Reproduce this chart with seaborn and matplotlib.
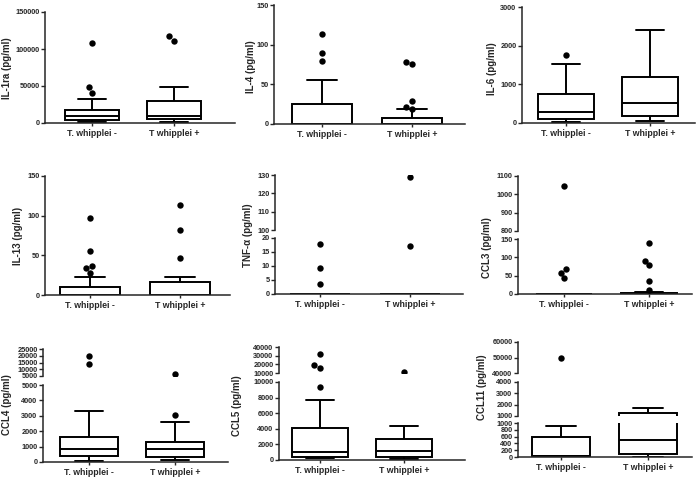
import numpy as np
import pandas as pd
import matplotlib
matplotlib.use("Agg")
import matplotlib.pyplot as plt
import seaborn as sns

sns.set_style("ticks")
plt.rcParams['font.family'] = ['Liberation Sans', 'DejaVu Sans']
plt.rcParams['font.weight'] = 'bold'

groups = ["T. whipplei -", "T whipplei +"]

# box summaries per group: [whisker low, q1, median, q3, whisker high]
il1ra_box = [[1500, 3500, 10000, 18000, 32700], [1500, 5400, 9800, 29500, 49000]]
il1ra_out = [[108000, 49000, 41000], [111000, 117000]]
il4_box = [[0, 0, 0, 25, 56], [0, 0, 0, 8, 18.5]]
il4_out = [[114, 90, 80], [78, 76, 29, 22, 19]]
il6_box = [[30, 110, 275, 740, 1517], [40, 190, 505, 1190, 2400]]
il6_out = [[1757], []]
il13_box = [[0, 0, 0, 10.5, 22.3], [0, 0, 0, 16, 22.3]]
il13_out = [[97, 55, 37, 34, 28], [114, 81.5, 46.6]]
tnf_box = [[0, 0, 0, 0, 0], [0, 0, 0, 0, 0]]
tnf_out = [[18, 9.3, 3.7], [129, 17.3]]
ccl3_box = [[0, 0, 0, 1, 1], [0, 0, 1, 3, 6]]
ccl3_out = [[1045, 69, 58, 43], [140, 91, 78, 36, 11]]
ccl4_box = [[80, 360, 820, 1620, 3310], [150, 300, 820, 1290, 2570]]
ccl4_out = [[19900, 13600], [6800, 3080]]
ccl5_box = [[200, 420, 1040, 4040, 7710], [120, 420, 1210, 2710, 4380]]
ccl5_out = [[31750, 19400, 15600, 9400], [11100]]
ccl11_box = [[10, 30, 40, 600, 920], [10, 100, 490, 1230, 1730]]
ccl11_out = [[50000], []]

# tick labels
t_il1ra = [0, 50000, 100000, 150000]
t_150 = [0, 50, 100, 150]
t_il6 = [0, 1000, 2000, 3000]
t_tnf_lo = [0, 5, 10, 15, 20]
t_tnf_hi = [100, 110, 120, 130]
t_ccl3_lo = [0, 50, 100, 150]
t_ccl3_hi = [800, 900, 1000, 1100]
t_ccl4_lo = [0, 1000, 2000, 3000, 4000, 5000]
t_ccl4_hi = [5000, 10000, 15000, 20000, 25000]
t_ccl5_lo = [0, 2000, 4000, 6000, 8000, 10000]
t_ccl5_hi = [10000, 20000, 30000, 40000]
t_ccl11_lo = [0, 200, 400, 600, 800, 1000]
t_ccl11_mid = [1000, 2000, 3000, 4000]
t_ccl11_hi = [40000, 50000, 60000]

W, H = 700, 478
fig = plt.figure(figsize=(7, 4.78), dpi=100)

# layout in pixels: x = (axis left, axis right, centre 1, centre 2), lab = ylabel centre,
# segs = (ymin, ymax, top px, bottom px, ticks), lowest first
panels = [
    dict(label="IL-1ra (pg/ml)", box=il1ra_box, out=il1ra_out, x=(45, 235, 92, 174), lab=(7, 68),
         segs=[(0, 150000, 12, 123, t_il1ra)]),
    dict(label="IL-4 (pg/ml)", box=il4_box, out=il4_out, x=(274, 465, 322, 412), lab=(251, 67),
         segs=[(0, 150, 5, 124, t_150)]),
    dict(label="IL-6 (pg/ml)", box=il6_box, out=il6_out, x=(522, 695, 566, 650), lab=(492, 69),
         segs=[(0, 3000, 7, 123, t_il6)]),
    dict(label="IL-13 (pg/ml)", box=il13_box, out=il13_out, x=(45, 230, 90, 180), lab=(18, 236),
         segs=[(0, 150, 176, 295, t_150)]),
    dict(label="TNF-α (pg/ml)", box=tnf_box, out=tnf_out, x=(275, 463, 320, 410), lab=(248, 235),
         segs=[(0, 20, 238, 294, t_tnf_lo), (100, 130, 175, 230, t_tnf_hi)]),
    dict(label="CCL3 (pg/ml)", box=ccl3_box, out=ccl3_out, x=(518, 692, 564, 649), lab=(487, 248),
         segs=[(0, 150, 239, 294, t_ccl3_lo), (800, 1100, 176, 231, t_ccl3_hi)]),
    dict(label="CCL4 (pg/ml)", box=ccl4_box, out=ccl4_out, x=(43, 228, 89, 175), lab=(7, 405),
         segs=[(0, 5000, 385, 462, t_ccl4_lo), (5000, 25000, 349, 376, t_ccl4_hi)]),
    dict(label="CCL5 (pg/ml)", box=ccl5_box, out=ccl5_out, x=(279, 465, 320, 404), lab=(237, 406),
         segs=[(0, 10000, 382, 460, t_ccl5_lo), (10000, 40000, 347, 373, t_ccl5_hi)]),
    dict(label="CCL11 (pg/ml)", box=ccl11_box, out=ccl11_out, x=(518, 692, 561, 648), lab=(482, 387),
         segs=[(0, 1000, 423, 457, t_ccl11_lo), (1000, 4000, 382, 416, t_ccl11_mid),
               (40000, 60000, 342, 373, t_ccl11_hi)]),
]


def draw_panel(p):
    L, R, c1, c2 = p["x"]
    u = c2 - c1
    xlim = ((L - c1) / u, (R - c1) / u)
    box_df = pd.DataFrame({"group": np.repeat(groups, 5), "value": np.concatenate(p["box"])})
    out_df = pd.DataFrame({
        "group": [g for g, vals in zip(groups, p["out"]) for v in vals],
        "value": [v for vals in p["out"] for v in vals],
    })
    for i, (lo, hi, top, bot, ticks) in enumerate(p["segs"]):
        ax = fig.add_axes([L / W, 1 - bot / H, (R - L) / W, (bot - top) / H])
        ax.patch.set_alpha(0)
        sns.boxplot(data=box_df, x="group", y="value", order=groups, whis=(0, 100),
                    width=0.67, color="white", linecolor="black", linewidth=1.4, ax=ax)
        seg = out_df[(out_df["value"] >= lo) & (out_df["value"] <= hi)]
        if len(seg):
            sns.swarmplot(data=seg, x="group", y="value", order=groups, color="black",
                          size=4.6, ax=ax)
        ax.set_ylim(lo, hi)
        ax.set_xlim(*xlim)
        ax.set_yticks(ticks)
        ax.set_yticklabels([str(t) for t in ticks])
        ax.set_xlabel("")
        ax.set_ylabel("")
        ax.tick_params(axis="y", labelsize=5.3, length=3, width=1, pad=1)
        ax.tick_params(axis="x", labelsize=6.3, length=2.5, width=1, pad=1.5)
        for s in ax.spines.values():
            s.set_linewidth(1.1)
        sns.despine(ax=ax, bottom=(i > 0))
        if i > 0:
            ax.tick_params(axis="x", bottom=False, labelbottom=False)
    lx, ly = p["lab"]
    fig.text(lx / W, 1 - ly / H, p["label"], rotation=90, ha="center", va="center", fontsize=7)


for p in panels:
    draw_panel(p)

fig.savefig("out.png", dpi=100)
